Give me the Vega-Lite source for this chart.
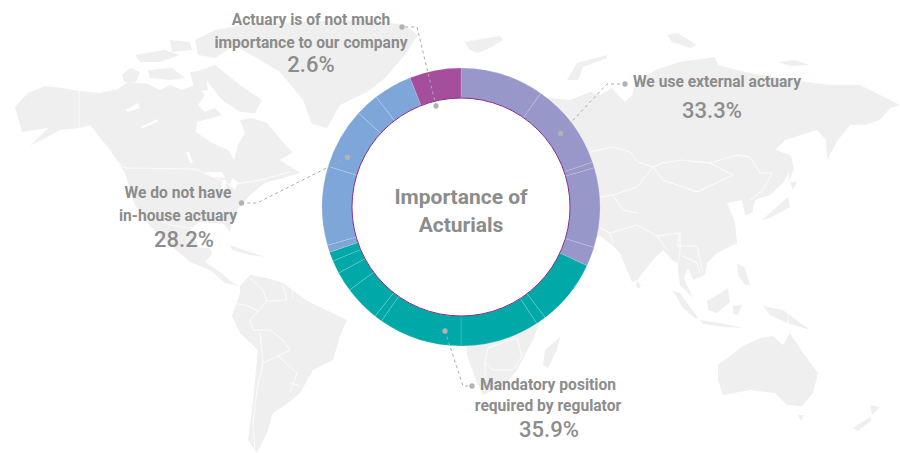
{"$schema":"https://vega.github.io/schema/vega-lite/v6.json","width":900,"height":453,"autosize":{"type":"fit","contains":"padding"},"padding":0,"background":"#ffffff","config":{"view":{"stroke":null}},
"datasets":{
"land":[{"type":"Feature","properties":{"name":"land"},"geometry":{"type":"MultiPolygon","coordinates":[
[[[-167.8,79.2],[-162.6,84.8],[-155.8,87.6],[-149,86.8],[-142.2,85.6],[-133.8,84.8],[-126.6,86.4],[-122.6,89.2],[-114.6,88.4],[-109.8,86],[-105.8,88],[-101,86],[-95.8,88],[-91.8,84],[-94.6,80],[-91.8,77.2],[-87.8,78.8],[-85,76],[-95,73.2],[-95.4,69.2],[-89,64.8],[-82.6,62],[-80.2,58],[-78.6,64],[-75.8,68.8],[-77.8,74],[-73,74.8],[-67,72.8],[-59,63.2],[-56.6,61.2],[-61.8,58],[-53.8,52.8],[-57.8,51.6],[-67.8,48.8],[-73.8,44],[-77.8,39.2],[-81,34.8],[-81.8,29.2],[-84.2,32.4],[-93.8,33.2],[-97.8,30.8],[-95.8,26],[-93.8,22.8],[-89.8,22.8],[-89,20.4],[-91.8,17.2],[-85.8,13.2],[-80.6,8.8],[-77.8,7.6],[-83.8,8.8],[-89.8,14],[-97.8,17.2],[-105.8,24],[-113.8,31.6],[-119.8,40],[-123.8,52.8],[-129.8,62],[-137.8,72],[-141.8,70.8],[-149.8,70],[-161.8,63.6],[-154.6,70.8],[-165,69.2],[-167.8,79.2]]],
[[[-77.8,7.6],[-73.8,12],[-67,10.8],[-60.6,8.8],[-51,1.6],[-35,-6],[-37.8,-12.4],[-40.6,-22],[-48.6,-26],[-53.8,-35.2],[-58.6,-39.2],[-64.6,-43.2],[-67,-51.2],[-71,-59.2],[-74.6,-54],[-73,-42],[-70.6,-18],[-77.8,-11.2],[-81,-4.4],[-77.8,4.8],[-77.8,7.6]]],
[[[45.4,82.8],[54.2,82],[62.2,85.2],[66.2,84],[71,86.8],[76.2,81.2],[79,84],[80.2,88],[88.2,94],[98.2,97.2],[112.2,99.2],[113.4,96],[124.2,93.2],[142.2,90],[158.2,88],[170.2,88],[186.2,80],[182.2,78.8],[178.2,74],[172.2,72],[166.2,72],[161.4,66],[157,58],[156.6,66],[153,70],[140.2,66],[136.2,62],[142.2,60],[143.4,56],[139.4,48.8],[134.2,44],[128.2,42],[127,36.8],[124.2,36],[123,42],[117,40.8],[120.2,33.2],[121,24.8],[113,20.8],[109,16.8],[108.2,12],[103.4,10],[101.4,14.8],[99.8,10.8],[103.4,2.8],[98.2,8],[97,16.8],[95,18],[91.4,22],[87.4,18],[81,10],[79,9.2],[74.2,20.8],[71.4,23.6],[66.2,27.6],[62.2,26],[54.2,18],[42.2,-6],[40.6,-10.8],[39.4,-14],[33,-26],[28.2,-32],[19.4,-36],[17,-31.2],[13,-20],[12.6,-14],[2.2,2],[-1.8,50],[26.2,78],[45.4,82.8]]],
[[[-125,92],[-121.8,94.8],[-117.8,93.2],[-119.4,89.2],[-124.2,89.2],[-125,92]]],
[[[-114.6,94],[-105,94.8],[-99.8,90.8],[-105.8,90],[-113.8,90.8],[-114.6,94]]],
[[[-119.8,100],[-107.8,102],[-101.8,100],[-109.8,97.2],[-117.8,97.2],[-119.8,100]]],
[[[-97.8,93.2],[-91.8,94],[-90.6,86],[-95.8,85.2],[-97.8,93.2]]],
[[[-105.8,106],[-97.8,105.2],[-97,102],[-105,101.2],[-105.8,106]]],
[[[-95.8,106],[-87.8,110],[-75.8,112],[-71.8,110],[-79.8,104],[-87.8,98.8],[-94.6,100],[-95.8,106]]],
[[[-93.8,94],[-87.8,96],[-77.8,88],[-69,82],[-71.8,76.8],[-77.8,77.2],[-85,82],[-89.8,88],[-93.8,94]]],
[[[-88.6,108.8],[-77.8,112],[-53.8,113.2],[-25.8,114],[-11.8,112],[-6.6,108],[-11.8,100],[-19.8,90.8],[-27,85.2],[-37.8,80],[-43,70.8],[-49,72.4],[-52.6,82],[-61.8,93.2],[-71.8,99.2],[-88.6,108.8]]],
[[[11.8,105.2],[26.2,107.6],[27.4,106],[22.2,102.8],[17.4,100.8],[14.2,102],[11.8,105.2]]],
[[[53,90],[57,96.8],[69,100],[69,98.8],[59.4,95.2],[57.4,90],[53,90]]],
[[[93,108],[97,108.8],[105,104],[102.2,102.8],[95,105.2],[93,108]]],
[[[137.4,97.2],[144.2,98],[150.2,96],[142.2,95.6],[137.4,97.2]]],
[[[-81.8,24],[-73.8,21.2],[-67,19.2],[-73.8,20],[-81,22],[-81.8,24]]],
[[[50.2,-12.8],[49,-18],[45.4,-25.2],[43.4,-24],[44.2,-18],[50.2,-12.8]]],
[[[81,9.6],[82.6,8],[81.8,6.4],[80.6,7.6],[81,9.6]]],
[[[95.4,5.6],[98.2,4.8],[105.4,-5.2],[104.2,-5.2],[99.4,-1.2],[95.4,5.6]]],
[[[106.2,-6],[114.2,-7.2],[123.4,-9.2],[116.2,-8.8],[107.4,-7.6],[106.2,-6]]],
[[[109,1.6],[115,5.2],[117.4,6.8],[118.2,1.2],[113,-3.2],[109.4,-2],[109,1.6]]],
[[[119.4,-0.4],[123,0],[121.4,-4],[119.4,-3.6],[119.4,-0.4]]],
[[[121,16.8],[124.2,14.8],[126.2,8],[124.2,8],[121.4,12],[121,16.8]]],
[[[131.4,-0.4],[139.4,-2],[150.2,-10],[145,-8.4],[141,-7.2],[134.2,-4],[131.4,-0.4]]],
[[[113.4,-24],[123.4,-16.4],[130.2,-13.2],[135.4,-12.4],[139.4,-16],[142.2,-11.2],[147.4,-19.2],[153.4,-27.2],[151.4,-35.2],[147,-40.4],[141,-40],[136.2,-35.2],[126.2,-34],[115.4,-36],[113.4,-30],[113.4,-24]]],
[[[145.4,-44],[147.8,-44],[146.6,-46.4],[145.4,-44]]],
[[[174.2,-40],[178.2,-40.8],[175,-44],[174.2,-40]]],
[[[167.4,-49.2],[174.2,-44.8],[175,-46],[169.4,-50.4],[167.4,-49.2]]],
[[[131,34],[141.4,43.2],[142.2,39.2],[134.2,34.8],[131,34]]],
[[[142.2,49.2],[145,49.2],[143.4,46],[142.2,49.2]]],
[[[142.6,60],[143.8,54],[141.4,49.2],[142.6,60]]]
]}}],
"lakes":[{"type":"Feature","properties":{"name":"lakes"},"geometry":{"type":"MultiPolygon","coordinates":[
[[[-123.8,78],[-118.6,80.8],[-117.8,78.8],[-122.6,77.2],[-123.8,78]]],
[[[-117.8,71.2],[-110.6,74.4],[-111,73.2],[-116.6,70.8],[-117.8,71.2]]],
[[[-99.4,61.2],[-98.2,61.2],[-96.6,56.8],[-97.8,56.8],[-99.4,61.2]]],
[[[-91.8,53.2],[-85,53.2],[-83.8,50.8],[-89,51.2],[-91.8,53.2]]],
[[[-85,50],[-83.4,50],[-83.8,45.2],[-85.4,46],[-85,50]]],
[[[-81,50.8],[-78.6,49.2],[-79.8,46],[-81.8,47.6],[-81,50.8]]]
]}}],
"borders":[{"type":"Feature","properties":{"name":"borders"},"geometry":{"type":"MultiLineString","coordinates":[
[[-142.2,85.6],[-142.2,70.8],[-135.8,68],[-129.8,60],[-123.8,54.8]],
[[-123.8,54.8],[-95.8,54.4],[-87.8,50.8],[-81.8,48],[-69.8,50],[-57.8,53.2]],
[[-119.8,38.8],[-111.8,34.8],[-105.8,32],[-97.8,30.8]],
[[-73.8,10.8],[-68.6,6],[-67,1.6],[-73.8,-6],[-72.6,-10],[-65.8,-10],[-60.6,-14],[-57.8,-18],[-62.6,-20.4],[-55,-27.2],[-57.8,-35.2]],
[[-69.8,-11.2],[-68.6,-23.2],[-71,-34],[-72.6,-47.2],[-71.8,-58]],
[[-68.6,-23.2],[-62.6,-20.4]],
[[-80.6,0.8],[-75.8,0],[-70.6,-2.4]],
[[-60.6,7.6],[-59,2],[-67,1.6]],
[[-57,6],[-56.6,2.8]],
[[-53,5.6],[-52.6,2.4]],
[[-57.8,-31.2],[-53.8,-32.4]],
[[62.2,61.2],[71.4,63.2],[78.2,61.2],[81.4,57.2],[87.4,55.2],[91.4,56.8],[98.2,58],[110.2,56.8],[121,60],[126.2,59.2],[130.2,52.8],[135,52.8],[131.4,46],[126.2,42]],
[[87.4,55.2],[91.4,50],[105,45.2],[119.4,52],[115.4,54],[110.2,56.8]],
[[87.4,55.2],[81,47.2],[71.4,44],[66.2,43.2]],
[[71.4,44],[75.4,38],[81,36.8]],
[[66.2,30.8],[70.2,28.8],[71.4,24.8]],
[[70.2,28.8],[81,32],[89,27.6],[98.2,28.8],[97,23.6],[105,23.6],[107.4,12.8]],
[[89,27.6],[93,22]],
[[98.2,28.8],[98.2,20.8],[97,14.8]],
[[99.4,19.6],[105,16.8],[106.2,12.8]],
[[20.2,-23.2],[20.2,-30]],
[[20.2,-23.2],[21.4,-17.2],[33,-13.2],[35,-20.4],[31.4,-26],[23.4,-26],[20.2,-23.2]],
[[141.4,-2.4],[141.4,-8.4]]
]}}],
"slices":[
{"seq":1,"group":"We use external actuary","share":35},{"seq":2,"group":"We use external actuary","share":36.2},{"seq":3,"group":"We use external actuary","share":2.4},{"seq":4,"group":"We use external actuary","share":33.3},{"seq":5,"group":"We use external actuary","share":8.1},
{"seq":6,"group":"Mandatory position required by regulator","share":27.7},{"seq":7,"group":"Mandatory position required by regulator","share":4.3},{"seq":8,"group":"Mandatory position required by regulator","share":33},{"seq":9,"group":"Mandatory position required by regulator","share":34.9},{"seq":10,"group":"Mandatory position required by regulator","share":3.3},{"seq":11,"group":"Mandatory position required by regulator","share":15.1},{"seq":12,"group":"Mandatory position required by regulator","share":8.4},{"seq":13,"group":"Mandatory position required by regulator","share":5.4},{"seq":14,"group":"Mandatory position required by regulator","share":3.9},
{"seq":15,"group":"We do not have in-house actuary","share":3},{"seq":16,"group":"We do not have in-house actuary","share":33},{"seq":17,"group":"We do not have in-house actuary","share":25.5},{"seq":18,"group":"We do not have in-house actuary","share":9.9},{"seq":19,"group":"We do not have in-house actuary","share":16.1},
{"seq":20,"group":"Actuary is of not much importance to our company","share":21.5}],
"leaders":[
{"id":"a","step":1,"lon":0.6,"lat":79.6,"dot":true},{"id":"a","step":2,"lon":-7,"lat":111.2,"dot":false},{"id":"a","step":3,"lon":-13,"lat":111.2,"dot":true},
{"id":"b","step":1,"lon":50.4,"lat":68.6,"dot":true},{"id":"b","step":2,"lon":69,"lat":88.4,"dot":false},{"id":"b","step":3,"lon":76.2,"lat":88.4,"dot":true},
{"id":"c","step":1,"lon":-34.8,"lat":59,"dot":true},{"id":"c","step":2,"lon":-71,"lat":40.8,"dot":false},{"id":"c","step":3,"lon":-77.2,"lat":40.8,"dot":true},
{"id":"d","step":1,"lon":4.2,"lat":-10.4,"dot":true},{"id":"d","step":2,"lon":11.4,"lat":-32.4,"dot":false},{"id":"d","step":3,"lon":15,"lat":-32.4,"dot":true}],
"names":[
{"t":"Actuary is of not much","lon":-49.4,"lat":114},{"t":"importance to our company","lon":-49.4,"lat":104.8},
{"t":"We do not have","lon":-102.6,"lat":44.8},{"t":"in-house actuary","lon":-102.6,"lat":35.6},
{"t":"We use external actuary","lon":113,"lat":89.2},
{"t":"Mandatory position","lon":45.4,"lat":-32},{"t":"required by regulator","lon":45.4,"lat":-40.4}],
"pcts":[
{"t":"2.6%","lon":-49.4,"lat":96},{"t":"28.2%","lon":-100.2,"lat":26},{"t":"33.3%","lon":111,"lat":77.6},{"t":"35.9%","lon":45.8,"lat":-50}],
"centre":[{"t":"Importance of","lon":10.6,"lat":42.8},{"t":"Acturials","lon":10.6,"lat":31.6}]
},
"layer":[
{"data":{"name":"land"},"projection":{"type":"identity","reflectY":true,"scale":2.5,"translate":[434.5,305]},"mark":{"type":"geoshape","fill":"#efefef","stroke":null},"encoding":{}},
{"data":{"name":"lakes"},"projection":{"type":"identity","reflectY":true,"scale":2.5,"translate":[434.5,305]},"mark":{"type":"geoshape","fill":"#ffffff","stroke":null},"encoding":{}},
{"data":{"name":"borders"},"projection":{"type":"identity","reflectY":true,"scale":2.5,"translate":[434.5,305]},"mark":{"type":"geoshape","fill":null,"filled":false,"stroke":"#ffffff","strokeWidth":0.8},"encoding":{}},
{"data":{"name":"slices"},"mark":{"type":"arc","outerRadius":139,"innerRadius":109,"stroke":"#ffffff","strokeOpacity":0.3,"strokeWidth":0.5},"encoding":{"x":{"value":461},"y":{"value":207},"theta":{"field":"share","type":"quantitative","stack":true,"scale":{"domain":[0,360]}},"order":{"field":"seq","type":"quantitative"},"color":{"field":"group","type":"nominal","legend":null,"scale":{"domain":["We use external actuary","Mandatory position required by regulator","We do not have in-house actuary","Actuary is of not much importance to our company"],"range":["#9797c9","#00a8a8","#7ea6d9","#a44e9c"]}}}},
{"data":{"values":[{"ring":1}]},"mark":{"type":"arc","outerRadius":109,"innerRadius":0,"theta":0,"theta2":6.29,"fill":"#ffffff","stroke":"#84288a","strokeWidth":1},"encoding":{"x":{"value":461},"y":{"value":207}}},
{"data":{"name":"leaders"},"projection":{"type":"identity","reflectY":true,"scale":2.5,"translate":[434.5,305]},"mark":{"type":"line","stroke":"#ababab","strokeWidth":1,"strokeDash":[3,3]},"encoding":{"longitude":{"field":"lon","type":"quantitative"},"latitude":{"field":"lat","type":"quantitative"},"detail":{"field":"id"},"order":{"field":"step","type":"quantitative"}}},
{"data":{"name":"leaders"},"transform":[{"filter":"datum.dot"}],"projection":{"type":"identity","reflectY":true,"scale":2.5,"translate":[434.5,305]},"mark":{"type":"circle","fill":"#b2b2b2","opacity":1,"size":28},"encoding":{"longitude":{"field":"lon","type":"quantitative"},"latitude":{"field":"lat","type":"quantitative"}}},
{"data":{"name":"names"},"projection":{"type":"identity","reflectY":true,"scale":2.5,"translate":[434.5,305]},"mark":{"type":"text","font":"Roboto","fontWeight":"bold","fontSize":15.6,"fill":"#8c8c8c","align":"center","baseline":"middle"},"encoding":{"longitude":{"field":"lon","type":"quantitative"},"latitude":{"field":"lat","type":"quantitative"},"text":{"field":"t"}}},
{"data":{"name":"pcts"},"projection":{"type":"identity","reflectY":true,"scale":2.5,"translate":[434.5,305]},"mark":{"type":"text","font":"Roboto","fontWeight":500,"fontSize":22,"fill":"#8c8c8c","align":"center","baseline":"middle"},"encoding":{"longitude":{"field":"lon","type":"quantitative"},"latitude":{"field":"lat","type":"quantitative"},"text":{"field":"t"}}},
{"data":{"name":"centre"},"projection":{"type":"identity","reflectY":true,"scale":2.5,"translate":[434.5,305]},"mark":{"type":"text","font":"Roboto","fontWeight":"bold","fontSize":21,"fill":"#8c8c8c","align":"center","baseline":"middle"},"encoding":{"longitude":{"field":"lon","type":"quantitative"},"latitude":{"field":"lat","type":"quantitative"},"text":{"field":"t"}}}
]}
